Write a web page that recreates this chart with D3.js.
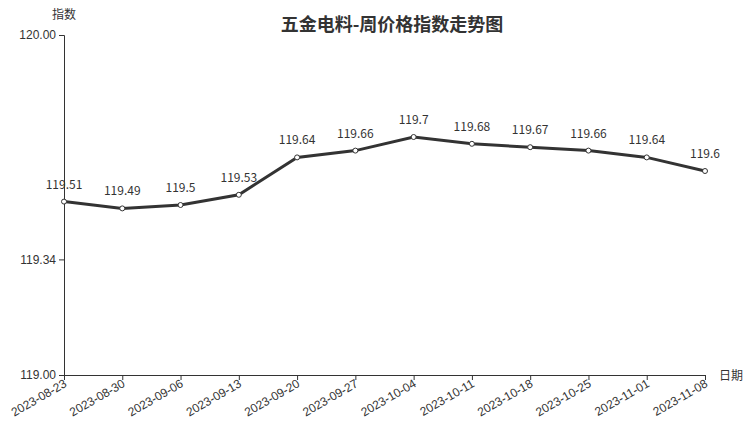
<!DOCTYPE html>
<html><head><meta charset="utf-8">
<script src="https://cdn.jsdelivr.net/npm/d3@7"></script>
<style>body{margin:0;background:#fff}svg{display:block;font-family:"Noto Sans CJK SC","Noto Sans",sans-serif}</style>
</head><body><svg id="c" width="752" height="427"></svg>
<script>
const categories = ["2023-08-23","2023-08-30","2023-09-06","2023-09-13","2023-09-20","2023-09-27","2023-10-04","2023-10-11","2023-10-18","2023-10-25","2023-11-01","2023-11-08"];
const values = [119.51,119.49,119.5,119.53,119.64,119.66,119.7,119.68,119.67,119.66,119.64,119.6];
const yTicks = [119.00,119.34,120.00];
const title = "五金电料-周价格指数走势图";

const svg = d3.select("#c");
const L=64,R=705,T=35,B=375;
const x = d3.scalePoint().domain(categories).range([L,R]);
const y = d3.scaleLinear().domain([119,120]).range([B,T]);
const col="#333";

svg.append("text").attr("x",392).attr("y",31).attr("text-anchor","middle")
  .attr("font-size",18).attr("font-weight","bold").attr("fill",col).text(title);

const ya = svg.append("g").attr("transform",`translate(${L},0)`)
  .call(d3.axisLeft(y).tickValues(yTicks).tickFormat(d3.format(".2f")).tickSizeOuter(0).tickSize(5));
ya.select(".domain").attr("stroke",col);
ya.selectAll(".tick line").attr("stroke",col);
ya.selectAll("text").attr("font-size",12).attr("fill",col).attr("font-family","inherit").attr("x",-8);

const xa = svg.append("g").attr("transform",`translate(0,${B})`)
  .call(d3.axisBottom(x).tickSizeOuter(0).tickSize(5));
xa.select(".domain").attr("stroke",col);
xa.selectAll(".tick line").attr("stroke",col);
xa.selectAll("text").attr("font-size",12).attr("fill",col).attr("font-family","inherit")
  .attr("text-anchor","end").attr("dx",0).attr("dy",0).attr("y",0).attr("x",0)
  .attr("transform","translate(3,11) rotate(-30)");

svg.append("text").attr("x",64).attr("y",19).attr("text-anchor","middle").attr("font-size",12).attr("fill",col).text("指数");
svg.append("text").attr("x",719).attr("y",380).attr("font-size",12).attr("fill",col).text("日期");

const line = d3.line().x((d,i)=>x(categories[i])).y(d=>y(d));
svg.append("path").datum(values).attr("d",line).attr("fill","none").attr("stroke",col).attr("stroke-width",3);
svg.selectAll("circle.p").data(values).join("circle").attr("class","p")
  .attr("cx",(d,i)=>x(categories[i])).attr("cy",d=>y(d)).attr("r",2.5)
  .attr("fill","#fff").attr("stroke",col).attr("stroke-width",1);
svg.selectAll("text.v").data(values).join("text").attr("class","v")
  .attr("x",(d,i)=>x(categories[i])).attr("y",d=>y(d)-13).attr("text-anchor","middle")
  .attr("font-size",12).attr("fill",col).text(d=>d);
</script></body></html>
